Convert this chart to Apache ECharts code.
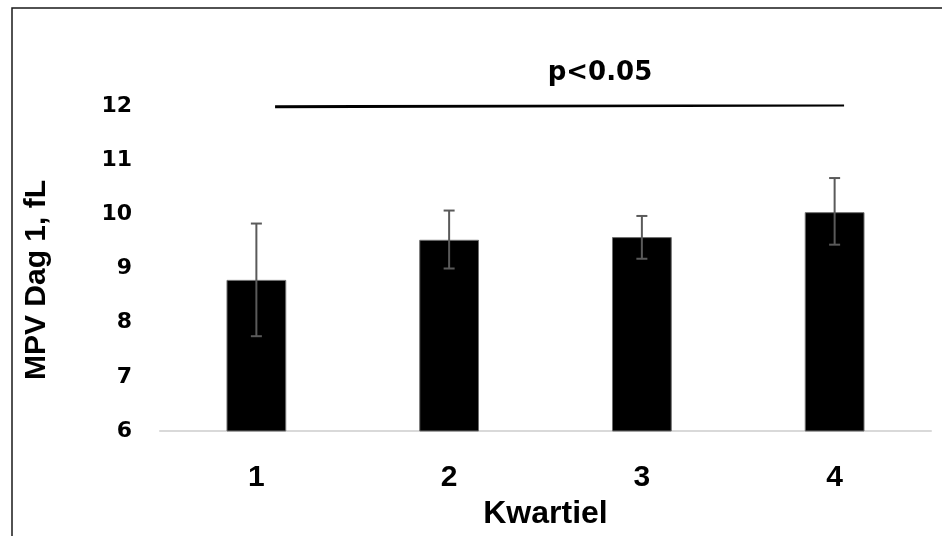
<!DOCTYPE html>
<html>
<head>
<meta charset="utf-8">
<script src="https://cdn.jsdelivr.net/npm/echarts@6/dist/echarts.min.js"></script>
<style>html,body{margin:0;padding:0;background:#fff}#c{width:942px;height:536px}</style>
</head>
<body>
<div id="c"></div>
<script>
const categories = ['1', '2', '3', '4'];
const meanValues = [8.79, 9.53, 9.58, 10.04];
const errLow = [7.75, 9.0, 9.18, 9.44];
const errHigh = [9.83, 10.07, 9.97, 10.67];
const yTicks = [6, 7, 8, 9, 10, 11, 12];
const sigLine = [[1.097, 11.987], [4.049, 12.018]];
const sigLabel = 'p<0.05';
const xTitle = 'Kwartiel';
const yTitle = 'MPV Dag 1, fL';

const chart = echarts.init(document.getElementById('c'), null, {renderer: 'canvas'});
const errData = categories.map((c, i) => [i, errLow[i], errHigh[i]]);

chart.setOption({
  animation: false,
  backgroundColor: '#fff',
  grid: {left: 160, right: 11, top: 106, bottom: 105},
  xAxis: [{
    type: 'category',
    data: categories,
    axisTick: {show: false},
    axisLine: {lineStyle: {color: '#d9d9d9', width: 2}},
    axisLabel: {color: '#000', fontFamily: 'Liberation Sans', fontWeight: 'bold', fontSize: 30, margin: 32},
    name: xTitle,
    nameLocation: 'middle',
    nameGap: 64,
    nameTextStyle: {color: '#000', fontFamily: 'Liberation Sans', fontWeight: 'bold', fontSize: 32}
  }, {
    type: 'value', min: 0.5, max: 4.5, show: false
  }],
  yAxis: {
    type: 'value',
    min: yTicks[0],
    max: yTicks[yTicks.length - 1],
    interval: 1,
    axisLine: {show: false},
    axisTick: {show: false},
    splitLine: {show: false},
    axisLabel: {color: '#000', fontFamily: 'DejaVu Sans', fontWeight: 'bold', fontSize: 22, margin: 28, padding: [0, 0, 7, 0]}
  },
  graphic: [
    {type: 'rect', shape: {x: 12, y: 8, width: 1000, height: 600}, style: {fill: 'none', stroke: '#1a1a1a', lineWidth: 1.5}, silent: true},
    {type: 'text', x: 600, y: 73, style: {text: sigLabel, align: 'center', verticalAlign: 'middle', fill: '#000', font: 'bold 26px "DejaVu Sans"'}},
    {type: 'text', x: 37, y: 280, rotation: Math.PI / 2, style: {text: yTitle, align: 'center', verticalAlign: 'middle', fill: '#000', font: 'bold 30px "Liberation Sans"'}}
  ],
  series: [{
    type: 'bar',
    data: meanValues,
    barWidth: '31%',
    itemStyle: {color: '#000', borderColor: '#6f6f6f', borderWidth: 1}
  }, {
    type: 'custom',
    data: errData,
    z: 5,
    renderItem: function (params, api) {
      const x = api.value(0);
      const hi = api.coord([x, api.value(2)]);
      const lo = api.coord([x, api.value(1)]);
      const hw = 5.5;
      const st = {stroke: '#5a5a5a', lineWidth: 2};
      return {type: 'group', children: [
        {type: 'line', shape: {x1: hi[0], y1: hi[1], x2: lo[0], y2: lo[1]}, style: st},
        {type: 'line', shape: {x1: hi[0] - hw, y1: hi[1], x2: hi[0] + hw, y2: hi[1]}, style: st},
        {type: 'line', shape: {x1: lo[0] - hw, y1: lo[1], x2: lo[0] + hw, y2: lo[1]}, style: st}
      ]};
    }
  }, {
    type: 'line',
    xAxisIndex: 1,
    data: sigLine,
    symbol: 'none',
    lineStyle: {color: '#000', width: 3}
  }]
});
</script>
</body>
</html>
